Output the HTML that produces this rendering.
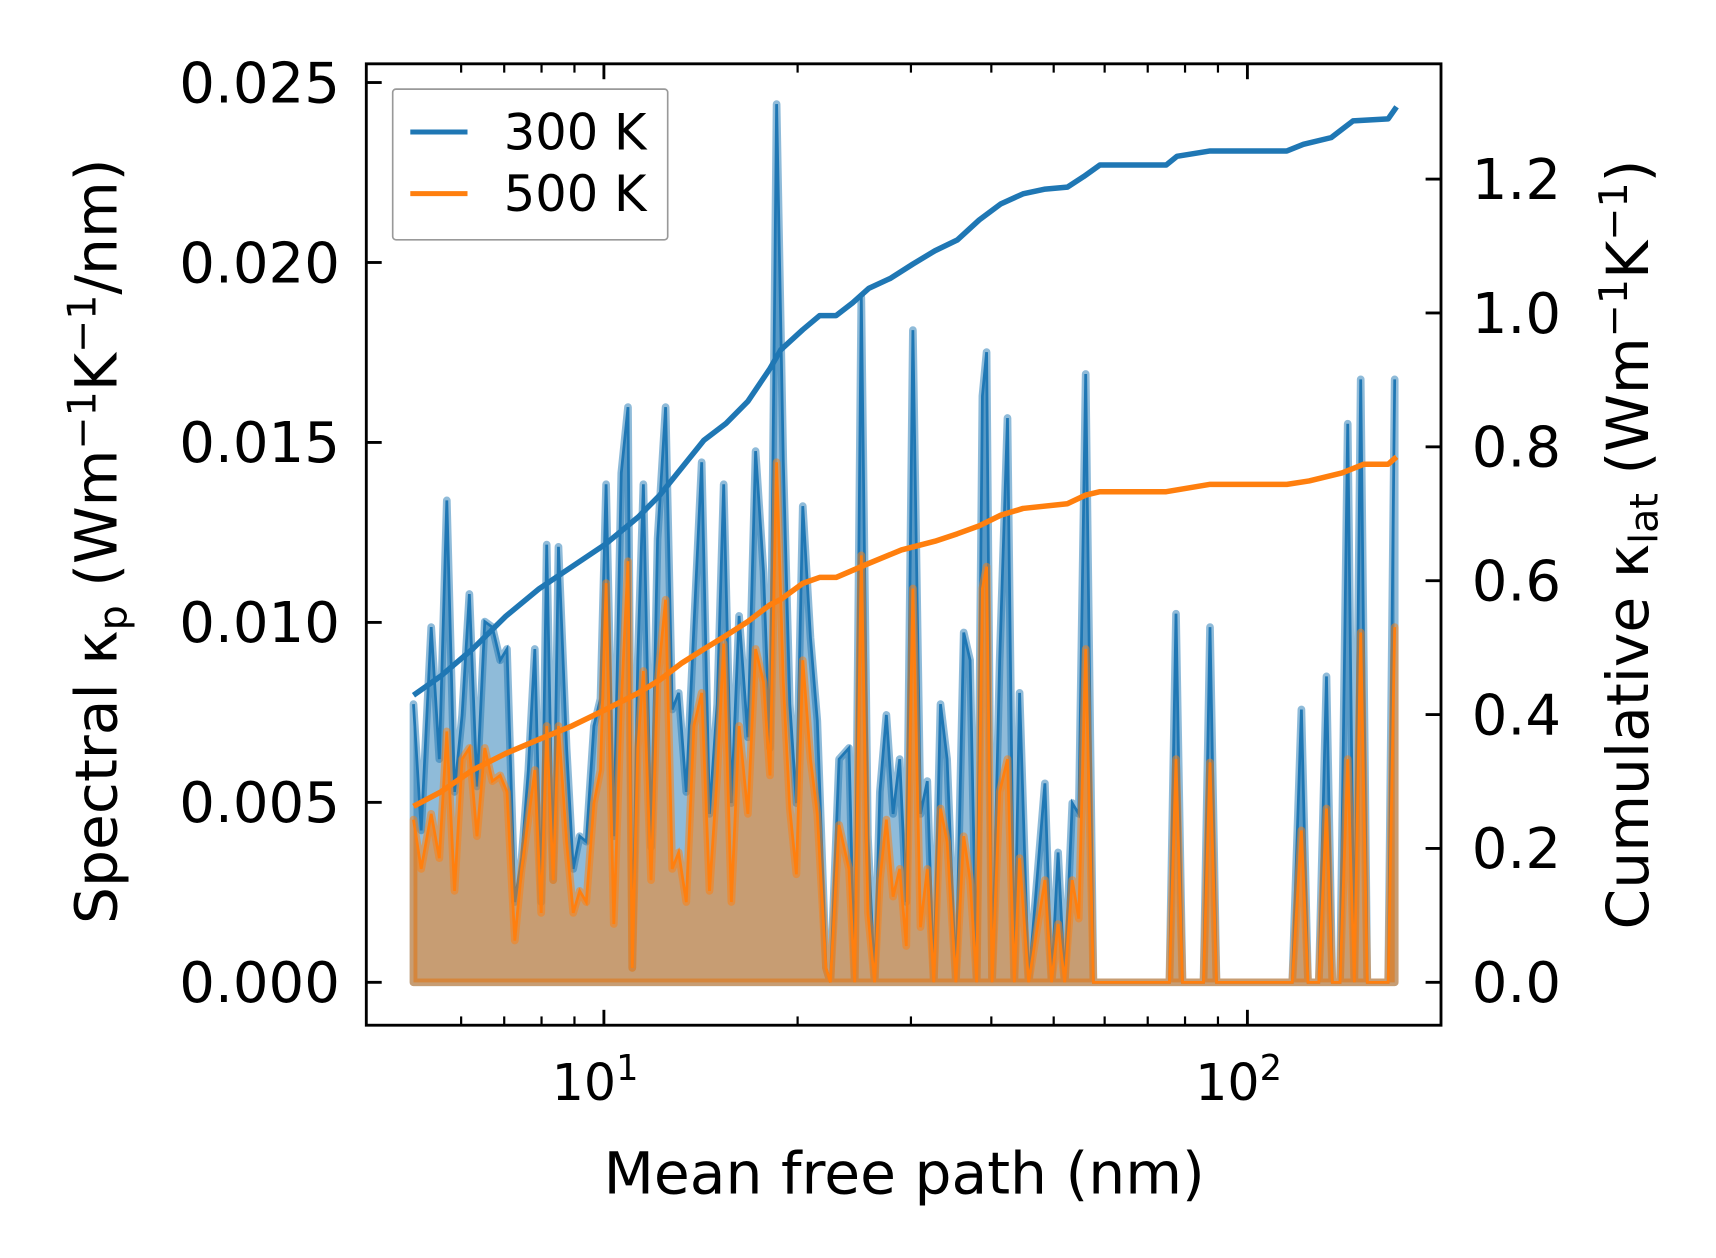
<!DOCTYPE html>
<html><head><meta charset="utf-8"><style>
html,body{margin:0;padding:0;background:#fff}
svg{display:block;font-family:"DejaVu Sans","Liberation Sans",sans-serif}
</style></head><body>
<svg id="chart" width="1716" height="1258" viewBox="0 0 1560 1143.6" xmlns="http://www.w3.org/2000/svg">
<g id="plot"></g>
</svg>
<script>
const mfp=[5.06,5.20,5.39,5.55,5.70,5.86,6.02,6.18,6.35,6.53,6.71,6.90,7.07,7.27,7.45,7.63,7.81,7.99,8.15,8.34,8.50,8.75,8.96,9.17,9.39,9.65,9.88,10.08,10.36,10.64,10.90,11.07,11.29,11.52,11.84,12.12,12.47,12.77,13.07,13.43,13.80,14.19,14.59,15.00,15.35,15.78,16.22,16.74,17.21,17.70,18.12,18.55,19.00,19.45,19.91,20.37,20.94,21.46,22.14,22.49,23.20,24.04,24.53,25.12,25.72,26.34,26.85,27.48,28.15,28.82,29.51,30.21,31.04,31.81,32.56,33.35,34.14,35.24,36.23,37.08,37.96,38.75,39.33,40.11,41.22,42.38,43.43,44.25,45.70,48.45,49.63,50.80,52.00,53.44,54.70,56.07,57.64,75.66,77.45,79.27,85.48,87.48,89.54,117.4,121.3,124.2,129.1,132.7,135.5,139.3,143.2,146.6,150.0,153.6,165.5,169.4];
const k300=[7.73,4.22,9.87,6.20,13.39,5.29,7.43,10.79,5.44,10.02,9.87,8.95,9.26,2.23,3.45,5.90,9.26,2.23,12.16,2.84,12.10,6.51,3.15,4.06,3.91,7.12,7.88,13.84,4.06,14.15,15.98,0.40,8.95,13.84,3.76,12.32,15.98,7.58,8.04,5.29,9.87,14.45,4.68,7.73,13.84,4.98,10.18,6.81,14.76,11.40,6.51,24.4,14.45,7.73,4.98,13.23,9.57,7.27,0.40,0,6.20,6.51,0,19.04,4.06,0,5.29,7.43,4.68,6.20,2.23,18.12,4.68,5.59,0,7.73,6.20,0,9.72,8.95,0,16.29,17.51,0,8.95,15.68,0,8.04,0,5.53,0,3.61,0,4.98,4.68,16.90,0,0,10.24,0,0,9.87,0,0,7.58,0,0,8.50,0,0,15.52,0,16.75,0,0,16.75];
const k500=[4.52,3.15,4.68,3.45,6.97,2.54,6.20,6.51,4.06,6.51,5.59,5.75,5.29,1.16,3.15,4.52,5.90,1.93,7.12,2.84,7.12,3.91,1.93,2.54,2.23,4.98,5.90,11.09,1.62,7.73,11.70,0.40,6.51,8.65,2.84,8.34,10.63,3.15,3.61,2.23,7.12,8.04,2.54,5.75,9.41,2.23,7.12,4.68,9.26,8.34,5.75,14.45,8.34,4.83,3.00,8.95,6.20,4.68,0.40,0,4.37,3.15,0,11.86,1.93,0,2.84,4.52,2.38,3.15,1.01,10.94,1.53,3.15,0,4.83,3.91,0,4.06,2.84,0,10.94,11.55,0,5.29,6.20,0,3.45,0,2.84,0,1.62,0,2.84,1.77,9.26,0,0,6.20,0,0,6.11,0,0,4.22,0,0,4.83,0,0,6.20,0,9.72,0,0,9.87];
const cumX300=[5.06,5.57,6.25,7.04,7.93,8.92,10.04,11.30,12.22,13.22,14.31,15.48,16.74,18.12,18.83,20.37,21.64,22.95,24.34,25.82,27.9,30.2,32.7,35.4,38.3,41.4,44.8,48.5,52.5,55.7,59.0,74.8,77.7,87.5,115.2,122.2,134.9,145.9,165.5,170.5];
const cum300=[0.429,0.457,0.498,0.547,0.588,0.621,0.654,0.695,0.728,0.769,0.810,0.835,0.868,0.917,0.945,0.975,0.996,0.996,1.015,1.037,1.052,1.073,1.093,1.109,1.139,1.163,1.178,1.185,1.188,1.204,1.221,1.221,1.234,1.242,1.242,1.252,1.262,1.287,1.290,1.308];
const cumX500=[5.06,5.57,6.25,7.04,7.93,8.92,10.04,11.30,12.22,13.22,14.31,15.48,16.74,18.12,18.83,20.37,21.64,22.95,25.82,29.0,32.7,35.4,38.3,41.4,44.8,52.5,56.1,59.0,74.8,87.5,115.2,124.7,140.3,151.7,165.5,170.5];
const cum500=[0.263,0.284,0.317,0.342,0.363,0.383,0.407,0.432,0.452,0.477,0.498,0.518,0.539,0.564,0.572,0.596,0.605,0.605,0.626,0.646,0.659,0.670,0.682,0.698,0.708,0.715,0.728,0.733,0.733,0.744,0.744,0.749,0.761,0.774,0.774,0.785];
const leftTicks=["0.000","0.005","0.010","0.015","0.020","0.025"];
const rightTicks=["0.0","0.2","0.4","0.6","0.8","1.0","1.2"];

const L=333,R=1310,T=58,B=932;
const X=v=>549+(Math.log10(v)-1)*585;
const YL=v=>893-v/0.005*163.6;
const YR=v=>893-v/0.2*121.7;
const NS="http://www.w3.org/2000/svg";
const g=document.getElementById('plot');
function mk(tag,attrs,parent){const e=document.createElementNS(NS,tag);for(const k in attrs)e.setAttribute(k,attrs[k]);(parent||g).appendChild(e);return e;}

function series(vals,color,name){
  const pts=mfp.map((m,i)=>X(m).toFixed(1)+','+YL(vals[i]/1000).toFixed(1));
  const poly=pts.join(' ')+' '+X(mfp[mfp.length-1]).toFixed(1)+','+YL(0)+' '+X(mfp[0]).toFixed(1)+','+YL(0);
  const f=mk('polygon',{points:poly,fill:color,'fill-opacity':0.5,stroke:color,'stroke-opacity':0.5,'stroke-width':7,'stroke-linejoin':'round'});
  
  
  const l=mk('polyline',{points:pts.join(' '),fill:'none',stroke:color,'stroke-width':2.5});
  
  
}
series(k300,'#1f77b4','spectral-300k');
series(k500,'#ff7f0e','spectral-500k');
function cum(xs,vs,color,name){
  const p=mk('polyline',{points:xs.map((m,i)=>X(m).toFixed(1)+','+YR(vs[i]).toFixed(1)).join(' '),fill:'none',stroke:color,'stroke-width':5,'stroke-linejoin':'round'});
  
  
}
cum(cumX300,cum300,'#1f77b4','cumulative-300k');
cum(cumX500,cum500,'#ff7f0e','cumulative-500k');

const fr=mk('rect',{x:L,y:T,width:R-L,height:B-T,fill:'none',stroke:'#000','stroke-width':2.6});


leftTicks.forEach(t=>{const y=YL(parseFloat(t));
  mk('line',{x1:L,x2:L+14,y1:y,y2:y,stroke:'#000','stroke-width':2.6});
  const tx=mk('text',{x:L-24,y:y+18,'text-anchor':'end','font-size':51});tx.textContent=t;
  
  
});
rightTicks.forEach(t=>{const y=YR(parseFloat(t));
  mk('line',{x1:R-14,x2:R,y1:y,y2:y,stroke:'#000','stroke-width':2.6});
  const tx=mk('text',{x:R+28,y:y+18,'font-size':51});tx.textContent=t;
  
  
});
const minors=[6,7,8,9,20,30,40,50,60,70,80,90,200];
minors.forEach(v=>{const x=X(v);if(x>R)return;
  mk('line',{x1:x,x2:x,y1:B,y2:B-8,stroke:'#000','stroke-width':2});
  mk('line',{x1:x,x2:x,y1:T,y2:T+8,stroke:'#000','stroke-width':2});});
[10,100].forEach((v,i)=>{const x=X(v);
  mk('line',{x1:x,x2:x,y1:B,y2:B-14,stroke:'#000','stroke-width':2.6});
  mk('line',{x1:x,x2:x,y1:T,y2:T+14,stroke:'#000','stroke-width':2.6});
  const tx=mk('text',{x:x-8,y:1000,'text-anchor':'middle','font-size':46});
  tx.innerHTML='10<tspan dy="-18" font-size="32">'+(i+1)+'</tspan>';
  
  
});
</script>
<svg style="position:absolute;left:0;top:0" width="1716" height="1258" viewBox="0 0 1560 1143.6" xmlns="http://www.w3.org/2000/svg" font-family="DejaVu Sans, Liberation Sans, sans-serif">
<text x="822" y="1085" text-anchor="middle" font-size="53">Mean free path (nm)</text>
<text transform="translate(106,492) rotate(-90)" text-anchor="middle" font-size="53">Spectral κ<tspan font-size="36" dy="9">p</tspan><tspan dy="-9"> (Wm</tspan><tspan font-size="36" dy="-19">−1</tspan><tspan dy="19">K</tspan><tspan font-size="36" dy="-19">−1</tspan><tspan dy="19">/nm)</tspan></text>
<text transform="translate(1498,495) rotate(-90)" text-anchor="middle" font-size="53">Cumulative κ<tspan font-size="36" dy="9">lat</tspan><tspan dy="-9"> (Wm</tspan><tspan font-size="36" dy="-19">−1</tspan><tspan dy="19">K</tspan><tspan font-size="36" dy="-19">−1</tspan><tspan dy="19">)</tspan></text>
<g>
<rect x="357" y="81" width="250" height="137" fill="#fff" fill-opacity="0.8" stroke="#999" stroke-width="1.5" rx="3"/>
<line x1="373" x2="425" y1="120" y2="120" stroke="#1f77b4" stroke-width="4.5"/>
<text x="458" y="136" font-size="45">300 K</text>
<line x1="373" x2="425" y1="176" y2="176" stroke="#ff7f0e" stroke-width="4.5"/>
<text x="458" y="192" font-size="45">500 K</text>
</g>
</svg>
</body></html>
